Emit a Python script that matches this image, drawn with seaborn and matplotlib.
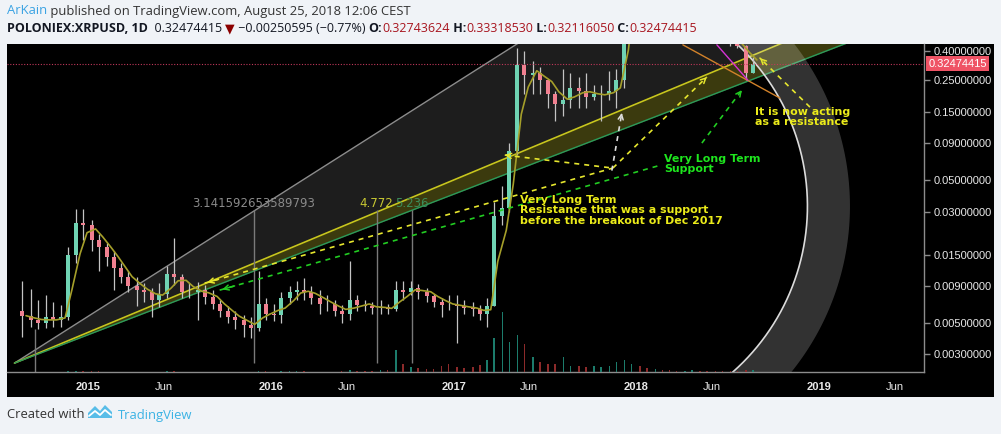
import numpy as np
import pandas as pd
import matplotlib
matplotlib.use('Agg')
import matplotlib.pyplot as plt
import matplotlib.dates as mdates
from matplotlib.patches import Rectangle, Polygon
from matplotlib.ticker import NullLocator, FixedLocator
import seaborn as sns

# semi-monthly candles POLONIEX:XRPUSD (period starts 2014-08-15 ... 2018-08-15)
first_open = 0.0060
close = [0.0056, 0.0052, 0.0050, 0.0055, 0.0052, 0.0055, 0.0150, 0.0250, 0.0240,
         0.0190, 0.0170, 0.0145, 0.0120, 0.0105, 0.0090, 0.0085, 0.0082, 0.0072, 0.0080, 0.0110, 0.0105,
         0.0082, 0.0082, 0.0085, 0.0076, 0.0068, 0.0060, 0.0055, 0.0052, 0.0048, 0.0046, 0.0068, 0.0058,
         0.0057, 0.0075, 0.0082, 0.0085, 0.0082, 0.0074, 0.0068, 0.0068, 0.0060, 0.0058, 0.0072, 0.0066,
         0.0065, 0.0063, 0.0064, 0.0062, 0.0085, 0.0082, 0.0088, 0.0082, 0.0077, 0.0070, 0.0067, 0.0066,
         0.0065, 0.0063, 0.0062, 0.0058, 0.0065, 0.0280, 0.0320, 0.0800, 0.3200, 0.2700, 0.2800, 0.2500,
         0.2000, 0.1700, 0.1800, 0.2200, 0.2100, 0.1900, 0.2000, 0.2000, 0.2100, 0.2500, 0.7500, 2.2000,
         1.6000, 1.1000, 1.1000, 0.9000, 0.7000, 0.5500, 0.6000, 0.8500, 0.6500, 0.6200, 0.5500, 0.4800,
         0.4500, 0.4300, 0.2800, 0.32474415]
high = [0.0098, 0.0086, 0.0072, 0.0078, 0.0070, 0.0066, 0.0170, 0.0310, 0.0310,
        0.0260, 0.0210, 0.0180, 0.0160, 0.0130, 0.0115, 0.0105, 0.0095, 0.0088, 0.0095, 0.0125, 0.0195,
        0.0110, 0.0095, 0.0097, 0.0092, 0.0085, 0.0072, 0.0065, 0.0060, 0.0057, 0.0055, 0.0115, 0.0075,
        0.0068, 0.0082, 0.0090, 0.0098, 0.0102, 0.0090, 0.0085, 0.0078, 0.0072, 0.0066, 0.0135, 0.0078,
        0.0072, 0.0070, 0.0072, 0.0068, 0.0098, 0.0098, 0.0098, 0.0093, 0.0088, 0.0080, 0.0075, 0.0078,
        0.0078, 0.0072, 0.0070, 0.0066, 0.0075, 0.0350, 0.0450, 0.0900, 0.4200, 0.4000, 0.3400, 0.3100,
        0.2500, 0.2100, 0.3000, 0.2800, 0.2600, 0.2800, 0.2300, 0.2300, 0.2900, 0.3000, 0.9000, 2.5000,
        3.3000, 1.9000, 1.2000, 1.2000, 1.0000, 0.7200, 0.6500, 0.9500, 0.9500, 0.7000, 0.7000, 0.5800,
        0.4800, 0.5000, 0.4400, 0.3600]
low = [0.0040, 0.0047, 0.0045, 0.0046, 0.0047, 0.0047, 0.0052, 0.0130, 0.0190,
       0.0160, 0.0115, 0.0125, 0.0085, 0.0095, 0.0082, 0.0065, 0.0070, 0.0055, 0.0064, 0.0075, 0.0092,
       0.0075, 0.0074, 0.0052, 0.0068, 0.0062, 0.0055, 0.0050, 0.0045, 0.0040, 0.0039, 0.0044, 0.0052,
       0.0051, 0.0050, 0.0068, 0.0072, 0.0072, 0.0068, 0.0058, 0.0060, 0.0056, 0.0050, 0.0052, 0.0060,
       0.0060, 0.0058, 0.0058, 0.0058, 0.0060, 0.0072, 0.0078, 0.0073, 0.0070, 0.0064, 0.0055, 0.0061,
       0.0036, 0.0058, 0.0056, 0.0052, 0.0047, 0.0065, 0.0240, 0.0300, 0.0750, 0.2000, 0.2000, 0.2000,
       0.1600, 0.1300, 0.1400, 0.1600, 0.1600, 0.1600, 0.1800, 0.1300, 0.1800, 0.1600, 0.2200, 0.7000,
       1.1000, 0.9000, 0.5800, 0.8500, 0.6800, 0.5000, 0.4600, 0.5500, 0.6200, 0.5800, 0.5000, 0.4600,
       0.4300, 0.4200, 0.2500, 0.2800]
volume = [0.5, 0.5, 0.5, 0.5, 0.5, 0.5, 1, 1.5, 1,
          1, 1, 0.5, 0.5, 0.5, 0.5, 0.5, 0.5, 0.5, 0.5, 1, 1, 0.5, 0.5, 0.5, 0.5, 0.5, 0.5, 0.5, 0.5, 0.5, 0.5, 1.5, 1,
          0.5, 1, 1, 1, 1, 0.5, 0.5, 0.5, 0.5, 1, 2, 1, 1, 1.5, 2, 2, 22, 8, 5, 4, 3, 3, 6, 8,
          5, 4, 5, 7, 12, 34, 60, 30, 37, 28, 15, 10, 8, 8, 15, 6, 6, 5, 6, 5, 6, 10, 12, 8,
          6, 4, 3, 2, 2, 1.5, 1.5, 2, 1.5, 1, 1, 1, 1, 1, 2, 2]
last_price = 0.32474415

# price axis / time axis
price_ticks = [0.003, 0.005, 0.009, 0.015, 0.03, 0.05, 0.09, 0.15, 0.25, 0.4]
time_ticks = ['2015-01-01', '2015-06-01', '2016-01-01', '2016-06-01', '2017-01-01',
              '2017-06-01', '2018-01-01', '2018-06-01', '2019-01-01', '2019-06-01']
time_labels = ['2015', 'Jun', '2016', 'Jun', '2017', 'Jun', '2018', 'Jun', '2019', 'Jun']

# drawings (date, price)
fan_origin = ('2014-08-07', 0.00261)
fan_gray = ('2016-03-05', 0.0498)
fan_yellow = ('2017-10-20', 0.133)
fan_green = ('2017-10-20', 0.098)
fib_time = ['2015-11-28', '2016-07-31', '2016-10-10']
fib_labels = ['3.141592653589793', '4.772', '5.236']
arc_center = ('2017-09-22', 0.0327)
arc_inner = '2018-12-09'
arc_outer = '2019-03-04'
orange_line = [('2018-04-04', 0.44), ('2018-10-15', 0.1866)]
magenta_line = [('2018-06-11', 0.44), ('2018-08-12', 0.249)]

sns.set_style('dark')
plt.rcParams['font.family'] = ['DejaVu Sans']
plt.rcParams['patch.force_edgecolor'] = False

W, H = 1001, 434
fig = plt.figure(figsize=(W / 100, H / 100), dpi=100)
fig.patch.set_facecolor('#f0f3f7')
fig.add_artist(Rectangle((7 / W, 37 / H), 987 / W, 353 / H, transform=fig.transFigure,
                         facecolor='black', edgecolor='none', zorder=-1))

ax = fig.add_axes([7 / W, 62 / H, 917 / W, 328 / H])
ax.set_facecolor('black')
ax.set_yscale('log')
ax.set_xlim(mdates.date2num(pd.Timestamp('2014-07-23')), mdates.date2num(pd.Timestamp('2019-07-30')))
ax.set_ylim(0.00226, 0.446)
ax.grid(False)

def dn(d):
    return mdates.date2num(pd.Timestamp(d))

x_end = ax.get_xlim()[1]

def fan_vals(p, xs):
    x0, y0 = dn(fan_origin[0]), np.log10(fan_origin[1])
    k = (np.log10(p[1]) - y0) / (dn(p[0]) - x0)
    return 10 ** (y0 + k * (xs - x0))

xs = np.array([dn(fan_origin[0]), x_end])
g_v, y_v, gr_v = fan_vals(fan_gray, xs), fan_vals(fan_yellow, xs), fan_vals(fan_green, xs)
ax.fill_between(xs, y_v, g_v, color='#1d1d1d', lw=0, zorder=1)
ax.fill_between(xs, gr_v, y_v, color='#3b3a0e', lw=0, zorder=1)
ax.plot(xs, g_v, color='#8c8c8c', lw=1, zorder=2)
ax.plot(xs, y_v, color='#c8c61e', lw=1.2, zorder=2)
ax.plot(xs, gr_v, color='#2b9a5a', lw=1, zorder=2)

# fib time zones
ax.vlines([dn(d) for d in fib_time], 0.0026, 0.0305, color='#7a7a7a', lw=1, zorder=2)
ax.vlines(dn('2014-09-16'), 0.00226, 0.0045, color='#7a7a7a', lw=1, zorder=2)
for d, s, c in zip(fib_time, fib_labels, ['#8a8a8a', '#c8c832', '#3c8c5a']):
    ax.text(dn(d), 0.0344, s, color=c, fontsize=8.5, ha='center', va='center', zorder=6)

# candles
df = pd.DataFrame({'date': pd.date_range('2014-08-15', '2018-08-15', freq='SMS'),
                   'high': high, 'low': low, 'close': close, 'volume': volume})
df['open'] = [first_open] + close[:-1]
df['x'] = mdates.date2num(df['date'] + pd.Timedelta(days=7))
df['ma'] = df['close'].rolling(3, min_periods=1).mean()
up = (df['close'] >= df['open']).to_numpy()
ax.vlines(df['x'], df['low'], df['high'], color='#c4c4c4', lw=0.9, zorder=3)
ax.bar(df['x'], (df['close'] - df['open']).abs(), bottom=df[['open', 'close']].min(axis=1),
       width=8, color=np.where(up, '#6fd3b3', '#f08090'), edgecolor='none', lw=0, zorder=4)
sns.lineplot(x=df['x'] + 8, y=df['ma'], ax=ax, color='#a59f2a', lw=1.2, zorder=5)
ax.set_xlabel('')
ax.set_ylabel('')

# volume
vax = ax.twinx()
vax.bar(df['x'], df['volume'], width=3, color=np.where(up, '#1c7c6c', '#8c2a2a'),
        edgecolor='none', lw=0)
vax.set_ylim(0, 328)
vax.set_axis_off()
vax.set_xlim(ax.get_xlim())

# arc (pixel-round circle)
cx, cy = ax.transData.transform((dn(arc_center[0]), arc_center[1]))
r_in = ax.transData.transform((dn(arc_inner), arc_center[1]))[0] - cx
r_out = ax.transData.transform((dn(arc_outer), arc_center[1]))[0] - cx
t = np.linspace(-np.pi / 2, np.pi / 2, 200)
inner = ax.transData.inverted().transform(np.column_stack([cx + r_in * np.cos(t), cy + r_in * np.sin(t)]))
outer = ax.transData.inverted().transform(np.column_stack([cx + r_out * np.cos(t), cy + r_out * np.sin(t)]))
ax.add_patch(Polygon(np.vstack([inner, outer[::-1]]), closed=True, fc='white', alpha=0.2, ec='none', zorder=2))
ax.plot(inner[:, 0], inner[:, 1], color='#dcdcdc', lw=1.2, zorder=2)

for (a, b), c in [(orange_line, '#d2822a'), (magenta_line, '#d633d6')]:
    ax.plot([dn(a[0]), dn(b[0])], [a[1], b[1]], color=c, lw=1, zorder=6)

# dashed arrows
def arrow(p0, p1, color, head0=False, head1=True):
    x0, y0, x1, y1 = dn(p0[0]), p0[1], dn(p1[0]), p1[1]
    ax.plot([x0, x1], [y0, y1], color=color, lw=1.2, ls=(0, (3, 3)), zorder=7)
    def head(xa, ya, xb, yb):
        xm = xb + (xa - xb) * 0.04
        ym = 10 ** (np.log10(yb) + (np.log10(ya) - np.log10(yb)) * 0.04)
        ax.annotate('', xy=(xb, yb), xytext=(xm, ym),
                    arrowprops=dict(arrowstyle='->', color=color, lw=1.1, mutation_scale=9), zorder=7)
    if head1:
        head(x0, y0, x1, y1)
    if head0:
        head(x1, y1, x0, y0)

arrow(('2015-08-22', 0.00946), ('2017-11-15', 0.0604), '#e6e62e', head0=True, head1=False)
arrow(('2017-04-13', 0.0745), ('2017-11-15', 0.0604), '#e6e62e', head0=True, head1=False)
arrow(('2017-11-15', 0.0604), ('2018-05-22', 0.262), '#e6e62e')
arrow(('2017-11-13', 0.058), ('2017-12-03', 0.147), '#dddddd')
arrow(('2015-09-21', 0.00845), ('2018-02-19', 0.0634), '#22cc22', head0=True, head1=False)
arrow(('2018-05-12', 0.0904), ('2018-07-31', 0.212), '#22cc22')
arrow(('2018-12-14', 0.1614), ('2018-09-05', 0.3556), '#e6e62e')

# notes
note_kw = dict(fontsize=7.9, weight='bold', va='top', ha='left', linespacing=1.02, zorder=8)
ax.text(dn('2017-05-13'), 0.0390, 'Very Long Term\nResistance that was a support\nbefore the breakout of Dec 2017',
        color='#ecec1a', **note_kw)
ax.text(dn('2018-02-25'), 0.0760, 'Very Long Term\nSupport', color='#1ee61e', **note_kw)
ax.text(dn('2018-08-26'), 0.162, 'It is now acting\nas a resistance', color='#ecec1a', **note_kw)

# last price
ax.axhline(last_price, color='#c0385a', ls=(0, (1, 1.5)), lw=0.8, zorder=6)
ax.annotate(f'{last_price:.8f}', xy=(1, last_price), xycoords=('axes fraction', 'data'),
            xytext=(3, 0), textcoords='offset points', va='center', ha='left', color='white',
            fontsize=8, family='Liberation Sans', annotation_clip=False,
            bbox=dict(boxstyle='square,pad=0.2', fc='#ef5365', ec='none'), zorder=9)

# axes styling
for s in ['left', 'top']:
    ax.spines[s].set_visible(False)
for s in ['right', 'bottom']:
    ax.spines[s].set_color('#8c8c8c')
    ax.spines[s].set_linewidth(1)
ax.yaxis.tick_right()
ax.yaxis.set_major_locator(FixedLocator(price_ticks))
ax.yaxis.set_minor_locator(NullLocator())
ax.set_yticklabels([f'{v:.8f}' for v in price_ticks])
ax.set_xticks([dn(d) for d in time_ticks])
ax.set_xticklabels(time_labels)
ax.tick_params(axis='both', colors='#8c8c8c', labelcolor='#e8e8e8', length=4, width=1,
               labelsize=8, pad=3, direction='out')
for lab in ax.get_yticklabels() + ax.get_xticklabels():
    lab.set_family('Liberation Sans')
for lab in ax.get_xticklabels():
    if lab.get_text() != 'Jun':
        lab.set_fontweight('bold')

# header / footer
hax = fig.add_axes([0, 0, 1, 1], zorder=10)
hax.set_axis_off()
hfont = 'Open Sans'
t1 = hax.text(7 / W, 1 - 11 / H, 'ArKain', color='#3ba3e3', fontsize=9.4, family=hfont, va='center')
hax.annotate(' published on TradingView.com, August 25, 2018 12:06 CEST', xy=(1, 0), xycoords=t1,
             va='bottom', color='#333333', fontsize=9.4, family=hfont)
segs = [('POLONIEX:XRPUSD, 1D', 'bold', '#131722'), ('  0.32474415 ', 'normal', '#131722'),
        ('▼', 'normal', '#8b0000'), (' −0.00250595 (−0.77%) ', 'normal', '#131722'),
        ('O:', 'bold', '#131722'), ('0.32743624', 'normal', '#a8151f'),
        (' H:', 'bold', '#131722'), ('0.33318530', 'normal', '#a8151f'),
        (' L:', 'bold', '#131722'), ('0.32116050', 'normal', '#a8151f'),
        (' C:', 'bold', '#131722'), ('0.32474415', 'normal', '#a8151f')]
prev = None
for s, wt, c in segs:
    fam = ['DejaVu Sans'] if s == '▼' else [hfont, 'DejaVu Sans']
    if prev is None:
        prev = hax.text(7 / W, 1 - 29 / H, s, color=c, fontsize=9, weight=wt, family=fam, va='center')
    else:
        prev = hax.annotate(s, xy=(1, 0), xycoords=prev, va='bottom', color=c, fontsize=9,
                            weight=wt, family=fam)
hax.text(7 / W, 1 - 415 / H, 'Created with', color='#333333', fontsize=9.4, family=hfont, va='center')
hax.text(118 / W, 1 - 415 / H, 'TradingView', color='#3bb3e4', fontsize=9.4, family=hfont, va='center')
logo = [(88, 418), (88, 413), (95, 406), (100, 411), (105, 405), (112, 412), (112, 418)]
hax.add_patch(Polygon([(x / W, 1 - y / H) for x, y in logo], closed=True, fc='#58bde8', ec='none'))
hax.plot([x / W for x in [89, 95, 100, 105, 111]], [1 - y / H for y in [416, 411, 415, 410, 415]],
         color='white', lw=1.3)
hax.set_xlim(0, 1)
hax.set_ylim(0, 1)

fig.savefig('out.png', dpi=100, facecolor=fig.get_facecolor())
